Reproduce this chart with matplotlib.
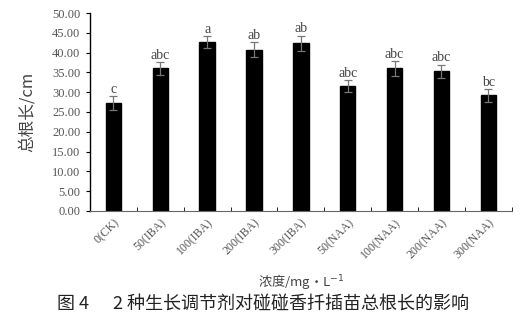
import numpy as np
import matplotlib.pyplot as plt

plt.rcParams['font.family'] = ['Liberation Serif', 'Noto Sans CJK SC']

categories = ['0(CK)', '50(IBA)', '100(IBA)', '200(IBA)', '300(IBA)',
              '50(NAA)', '100(NAA)', '200(NAA)', '300(NAA)']
root_length = [27.2, 36.0, 42.6, 40.8, 42.4, 31.5, 36.0, 35.3, 29.2]
errors = [1.8, 1.6, 1.5, 1.8, 1.9, 1.5, 1.8, 1.7, 1.6]
letters = ['c', 'abc', 'a', 'ab', 'ab', 'abc', 'abc', 'abc', 'bc']

cjk = ['Noto Sans CJK SC', 'Liberation Serif']

fig = plt.figure(figsize=(5.26, 3.2), dpi=100)
ax = fig.add_axes([0.171, 0.341, 0.802, 0.618])

x = np.arange(len(categories))
ax.bar(x, root_length, width=0.33, color='black', edgecolor='black')
ax.errorbar(x, root_length, yerr=errors, fmt='none', ecolor='#777777',
            elinewidth=0.9, capsize=3, capthick=0.9)
for xi, v, e, lab in zip(x, root_length, errors, letters):
    ax.text(xi, v + e + 0.1, lab, ha='center', va='bottom', fontsize=10,
            color='#444444')

ax.set_xlim(-0.5, len(categories) - 0.5)
ax.set_ylim(0, 50)
yt = np.arange(0, 50.1, 5)
ax.set_yticks(yt)
ax.set_yticklabels([f'{t:.2f}' for t in yt], fontsize=9, color='#555555')
ax.set_xticks(x)
ax.set_xticklabels(categories, rotation=45, ha='right', rotation_mode='anchor',
                   fontsize=8.5, color='#555555')
ax.tick_params(axis='x', length=0, pad=4)
ax.set_xticks(np.arange(-0.5, len(categories)), minor=True)
ax.tick_params(axis='x', which='minor', length=3, direction='in')
ax.tick_params(axis='y', length=3, direction='out', pad=4)

ax.spines['top'].set_visible(False)
ax.spines['right'].set_visible(False)
ax.spines['left'].set_linewidth(1.0)
ax.spines['bottom'].set_color('#666666')

ax.set_ylabel('总根长/cm', fontsize=12, color='#444444', family=cjk,
              labelpad=12)
ax.set_xlabel('浓度/mg·L$^{-1}$', fontsize=9.5, color='#444444', family=cjk,
              labelpad=8)

fig.text(0.5, 0.05, '图 4      2 种生长调节剂对碰碰香扦插苗总根长的影响',
         ha='center', va='center', fontsize=13, color='#222222', family=cjk)

fig.savefig('out.png', dpi=100)
